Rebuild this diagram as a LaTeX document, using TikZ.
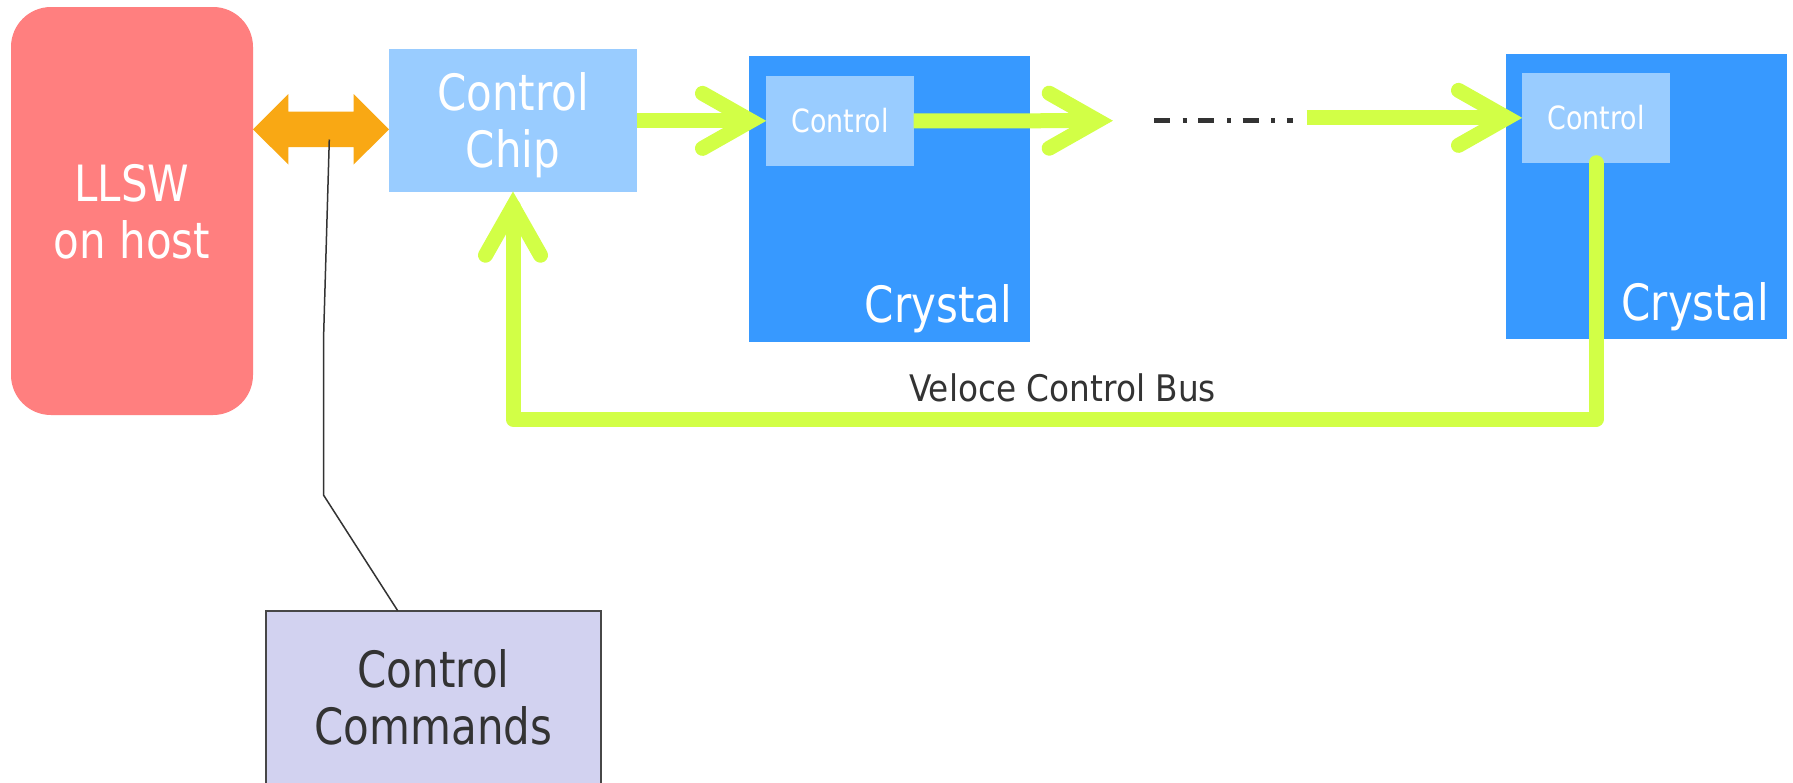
\documentclass[tikz,border=0pt]{standalone}
\usepackage{fontspec}
\setmainfont{DejaVu Sans}[FakeStretch=0.84]
\newfontfamily\buslabelfont{DejaVu Sans}[FakeStretch=0.895]
\usetikzlibrary{calc}

\definecolor{hostpink}{HTML}{FF7F7F}
\definecolor{chipblue}{HTML}{99CCFF}
\definecolor{crystalblue}{HTML}{3799FF}
\definecolor{busgreen}{HTML}{D2FF46}
\definecolor{linkorange}{HTML}{F9A814}
\definecolor{cmdlilac}{HTML}{D2D2F0}
\definecolor{inkgray}{HTML}{333333}

\tikzset{
  box/.style={inner sep=0pt, outer sep=0pt, align=center},
  bigtext/.style={font=\fontsize{25}{28.5}\selectfont, text depth=0pt},
  smalltext/.style={font=\fontsize{16}{19}\selectfont},
  bus/.style={draw=busgreen, line width=7.5pt},
  vhead/.pic={\draw[bus, line cap=round, line join=miter]
      (-63.5,-27.5) -- (-15,0) -- (-63.5,27.5);},
  leader/.style={draw=inkgray, line width=0.75pt},
}

\begin{document}
\begin{tikzpicture}[x=0.5pt, y=-0.5pt]
  % canvas
  \fill[white] (0,0) rectangle (1793,782);
  \useasboundingbox (0,0) rectangle (1793,782);

  % host and control chip
  \node[box, bigtext, fill=hostpink, rounded corners=20pt, text=white,
        text depth=-3pt,
        minimum width=121pt, minimum height=204pt] (llsw) at (132,211)
        {LLSW\\on host};
  \node[box, bigtext, fill=chipblue, text=white,
        minimum width=124pt, minimum height=71.35pt] (chip) at (513,120.35)
        {Control\\Chip};

  % crystals with their control blocks
  \node[box, fill=crystalblue, minimum width=140.5pt, minimum height=142.85pt]
        (cry1) at (889.5,198.85) {};
  \node[box, smalltext, fill=chipblue, text=white,
        minimum width=73.85pt, minimum height=44.85pt] (ctrl1) at (839.85,120.85)
        {Control};
  \node[box, font=\fontsize{25}{28.5}\selectfont, text=white, anchor=base east]
        (cry1lbl) at ($(cry1.south east)+(-18,-19)$) {Crystal};

  \node[box, fill=crystalblue, minimum width=140.35pt, minimum height=142.65pt]
        (cry2) at (1646.35,196.65) {};
  \node[box, smalltext, fill=chipblue, text=white,
        minimum width=74pt, minimum height=44.85pt] (ctrl2) at (1596,117.85)
        {Control};
  \node[box, font=\fontsize{25}{28.5}\selectfont, text=white, anchor=base east]
        (cry2lbl) at ($(cry2.south east)+(-18,-19.3)$) {Crystal};

  % command source
  \node[box, bigtext, fill=cmdlilac, draw=inkgray!90, line width=0.8pt,
        text=inkgray, minimum width=167.5pt, minimum height=86.65pt]
        (cmd) at (433.5,697.35) {Control\\Commands};

  % host <-> chip link
  \coordinate (dl) at (llsw.east |- 0,129.3);
  \coordinate (dr) at (chip.west |- 0,129.3);
  \fill[linkorange] (dl) -- ++(35.4,-35.3) -- ++(0,17.6)
      -- ($(dr)+(-35.4,-17.7)$) -- ++(0,-17.6) -- (dr)
      -- ++(-35.4,35.3) -- ++(0,-17.6)
      -- ($(dl)+(35.4,17.7)$) -- ++(0,17.6) -- cycle;

  % leader from the link to the command box
  \coordinate (tap) at (329.3,139.5);
  \coordinate (bendA) at (323.5,340);
  \coordinate (bendB) at (323.5,495);
  \draw[leader] (tap) -- (bendA) -- (bendB) -- ($(cmd.north west)+(131.7,0)$);

  % control chain
  \draw[bus] (chip.east |- ctrl1.west) -- ($(ctrl1.west)+(-15,0)$);
  \pic at (ctrl1.west) {vhead};

  \coordinate (gapA) at (1112.7,120.7);
  \draw[bus] (ctrl1.east) -- ($(gapA)+(-15,0)$);
  \pic at (gapA) {vhead};

  \coordinate (dotsA) at (1154,120.5);
  \coordinate (dotsB) at (1292.7,120.5);
  \draw[inkgray, line width=2.15pt,
        dash pattern=on 8pt off 6.35pt on 2pt off 5.8pt] (dotsA) -- (dotsB);

  \coordinate (gapB) at (1306.7,117.85);
  \draw[bus] (gapB) -- ($(ctrl2.west)+(-15,0)$);
  \pic at (ctrl2.west) {vhead};

  % return bus back to the chip
  \coordinate (busy) at (0,419.2);
  \draw[bus, line join=round, line cap=round]
      (ctrl2.south) -- (ctrl2.south |- busy) -- (chip.south |- busy)
      -- ($(chip.south)+(0,15)$);
  \pic[rotate=90] at (chip.south) {vhead};

  \node[box, font=\buslabelfont\fontsize{18.3}{22}\selectfont, text=inkgray,
        anchor=base] (buslbl) at (1062.5,401.7) {Veloce Control Bus};
\end{tikzpicture}
\end{document}
